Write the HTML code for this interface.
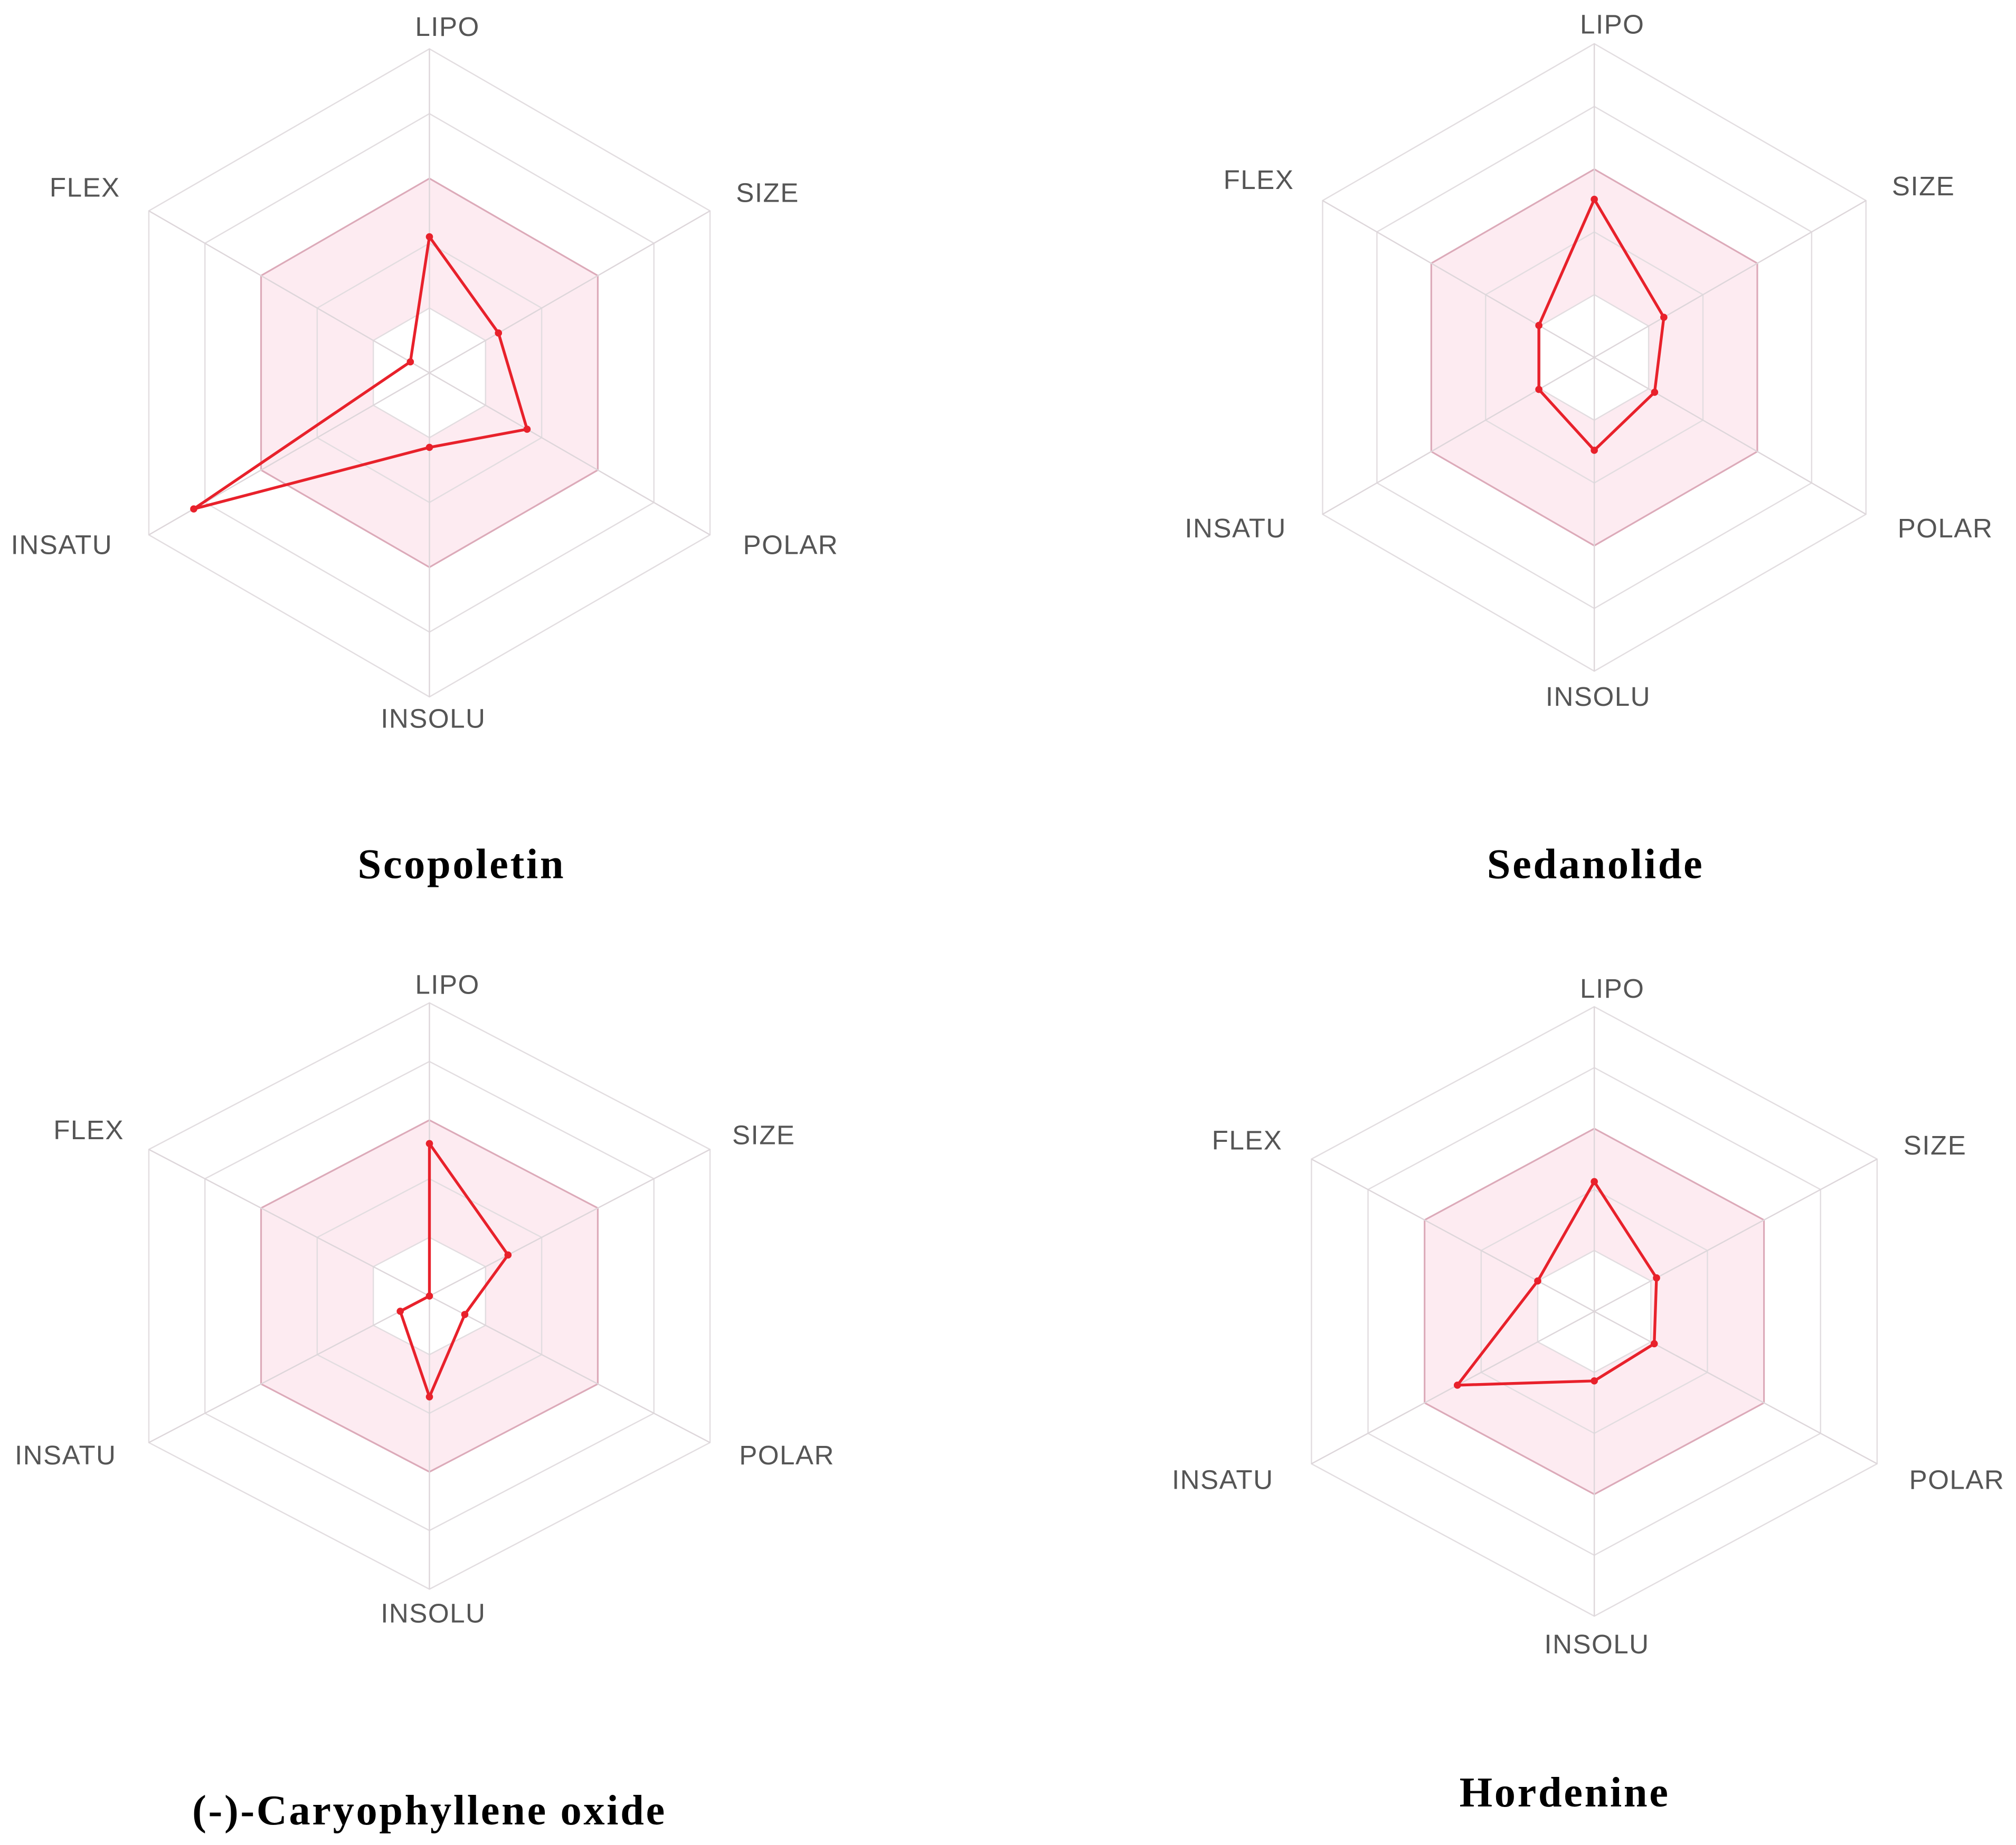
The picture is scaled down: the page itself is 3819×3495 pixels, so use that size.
<!DOCTYPE html>
<html>
<head>
<meta charset="utf-8">
<style>
  html, body { margin: 0; padding: 0; background: #ffffff; }
  body { width: 3819px; height: 3495px; overflow: hidden; }
  svg { display: block; }
  .axis-label { font-family: "Liberation Sans", sans-serif; font-size: 21px; letter-spacing: 0.6px; fill: #555555; }
  .chart-title { font-family: "Liberation Serif", serif; font-size: 33px; letter-spacing: 1.5px; font-weight: bold; fill: #000000; }
</style>
</head>
<body>
<svg id="root" width="3819" height="3495" viewBox="0 0 1568 1435" preserveAspectRatio="none" xmlns="http://www.w3.org/2000/svg"></svg>
<script>
// Axis categories (clockwise from top)
const axisNames = ["LIPO", "SIZE", "POLAR", "INSOLU", "INSATU", "FLEX"];
// Compound names
const compoundNames = ["Scopoletin", "Sedanolide", "(-)-Caryophyllene oxide", "Hordenine"];
// Series values in ring units (0..5), order: LIPO, SIZE, POLAR, INSOLU, INSATU, FLEX
const scopoletinValues = [2.1, 1.23, 1.74, 1.15, 4.2, 0.34];
const sedanolideValues = [2.52, 1.28, 1.11, 1.48, 1.02, 1.02];
const caryophylleneValues = [2.6, 1.4, 0.63, 1.72, 0.52, 0.0];
const hordenineValues = [2.13, 1.1, 1.06, 1.14, 2.42, 1.0];
const ringLevels = [1, 2, 3, 4, 5];

const seriesList = [scopoletinValues, sedanolideValues, caryophylleneValues, hordenineValues];

// layout (not data)
const layouts = [
  { cx: 334, cy: 290, r: 252, ry: 252,
    labels: [[348,21],[597,150],[615,424],[337,559],[48,424],[66,146]], title: [359,672] },
  { cx: 1240, cy: 278, r: 244, ry: 244,
    labels: [[1254,19],[1496,145],[1513,411],[1243,542],[961,411],[979,140]], title: [1241,672] },
  { cx: 334, cy: 1008, r: 252, ry: 228,
    labels: [[348,766],[594,883],[612,1132],[337,1255],[51,1132],[69,879]], title: [334,1408] },
  { cx: 1240, cy: 1020, r: 254, ry: 237,
    labels: [[1254,769],[1505,891],[1522,1151],[1242,1279],[951,1151],[970,887]], title: [1217,1394] }
];

const NS = "http://www.w3.org/2000/svg";
const root = document.getElementById("root");

function mk(tag, attrs, parent) {
  const e = document.createElementNS(NS, tag);
  for (const k in attrs) e.setAttribute(k, attrs[k]);
  parent.appendChild(e);
  return e;
}
function pt(L, i, v) {
  const ang = -Math.PI / 2 + i * Math.PI / 3;
  return [L.cx + Math.cos(ang) * L.r * v / 5, L.cy + Math.sin(ang) * L.ry * v / 5];
}
function hexPts(L, v) {
  const a = [];
  for (let i = 0; i < 6; i++) a.push(pt(L, i, v));
  return a;
}
function toStr(a) { return a.map(p => p[0].toFixed(2) + "," + p[1].toFixed(2)).join(" "); }
function toPath(a) { return "M" + a.map(p => p[0].toFixed(2) + " " + p[1].toFixed(2)).join(" L") + " Z"; }

layouts.forEach((L, ci) => {
  const g = mk("g", {}, root);
  
  

  const band = mk("path", { d: toPath(hexPts(L, 3)) + " " + toPath(hexPts(L, 1)), "fill-rule": "evenodd", fill: "#fdebf1", stroke: "none" }, g);
  
  

  ringLevels.forEach(lv => {
    const ring = mk("polygon", { points: toStr(hexPts(L, lv)), fill: "none", stroke: lv === 3 ? "#dcaab9" : "#e2dde0", "stroke-width": lv === 3 ? 1.3 : 1 }, g);
    
    
  });

  for (let i = 0; i < 6; i++) {
    const p = pt(L, i, 5);
    const ax = mk("line", { x1: L.cx, y1: L.cy, x2: p[0], y2: p[1], stroke: "#ddd6da", "stroke-width": 1 }, g);
    
    
  }

  axisNames.forEach((name, i) => {
    const t = mk("text", { x: L.labels[i][0], y: L.labels[i][1] + 7, "text-anchor": "middle", class: "axis-label" }, g);
    t.textContent = name;
    
    
  });

  const vals = seriesList[ci];
  const pts = vals.map((v, i) => pt(L, i, v));
  const poly = mk("polygon", { points: toStr(pts), fill: "none", stroke: "#e8212b", "stroke-width": 2.2, "stroke-linejoin": "round" }, g);
  
  
  pts.forEach((p, i) => {
    const c = mk("circle", { cx: p[0], cy: p[1], r: 2.8, fill: "#e8212b" }, g);
    
    
  });

  const tt = mk("text", { x: L.title[0], y: L.title[1] + 11, "text-anchor": "middle", class: "chart-title" }, g);
  tt.textContent = compoundNames[ci];
  
  
});
</script>
</body>
</html>
